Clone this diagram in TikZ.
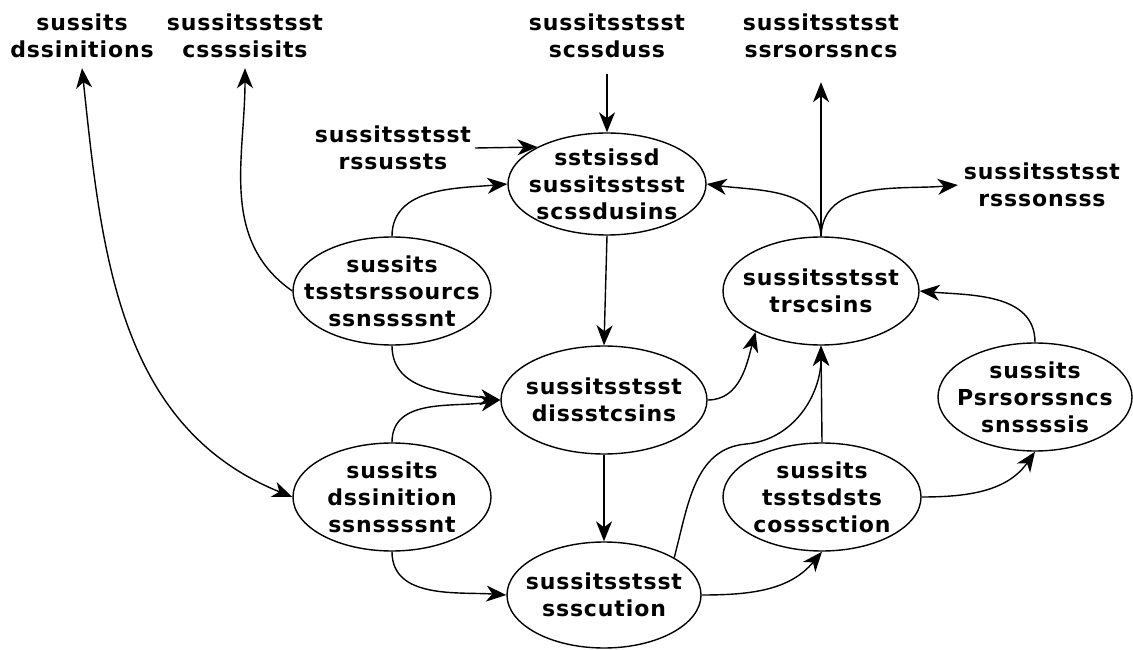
\documentclass[tikz,border=0pt]{standalone}
\usepackage{fontspec}
\setsansfont{DejaVu Sans}[LetterSpace=4]
\usetikzlibrary{shapes.geometric,arrows.meta}
\begin{document}
\begin{tikzpicture}[x=1pt,y=1pt,
  every node/.style={font=\sffamily\bfseries\fontsize{22}{27}\selectfont, align=center},
  ell/.style={draw, ellipse, line width=1.4pt, inner sep=0pt},
  txt/.style={inner sep=10pt},
  tip/.style={Stealth[length=20pt,width=16pt,inset=6pt]},
  link/.style={line width=1.4pt, -{Stealth[length=20pt,width=16pt,inset=6pt]}},
  both/.style={line width=1.4pt, {Stealth[length=20pt,width=16pt,inset=6pt]}-{Stealth[length=20pt,width=16pt,inset=6pt]}}
]
\useasboundingbox[fill=white] (0,0) rectangle (1133,649);

% process ellipses
\node[ell, minimum width=198pt, minimum height=102pt,
  label={center:sstsissd\\sussitsstsst\\scssdusins}] (e1) at (607,465) {};
\node[ell, minimum width=198pt, minimum height=108pt,
  label={center:sussits\\tsstsrssourcs\\ssnssssnt}] (e2) at (392,358) {};
\node[ell, minimum width=206pt, minimum height=108pt,
  label={center:sussitsstsst\\dissstcsins}] (e3) at (604,249) {};
\node[ell, minimum width=198pt, minimum height=108pt,
  label={center:sussits\\dssinition\\ssnssssnt}] (e4) at (392,152) {};
\node[ell, minimum width=194pt, minimum height=106pt,
  label={center:sussitsstsst\\ssscution}] (e5) at (604,54) {};
\node[ell, minimum width=196pt, minimum height=108pt,
  label={center:sussitsstsst\\trscsins}] (e6) at (821,358) {};
\node[ell, minimum width=194pt, minimum height=108pt,
  label={center:sussits\\Psrsorssncs\\snssssis}] (e7) at (1035,252) {};
\node[ell, minimum width=198pt, minimum height=108pt,
  label={center:sussits\\tsstsdsts\\cosssction}] (e8) at (822,152) {};

% free labels
\node[txt] (t1) at (82,613) {sussits\\dssinitions};
\node[txt] (t2) at (245,613) {sussitsstsst\\cssssisits};
\node[txt] (t3) at (607,613) {sussitsstsst\\scssduss};
\node[txt] (t4) at (821,613) {sussitsstsst\\ssrsorssncs};
\node[inner sep=4pt] (t5) at (393,501) {sussitsstsst\\rssussts};
\node[inner sep=6pt] (t6) at (1042,464) {sussitsstsst\\rsssonsss};

\coordinate (w) at (746,205);

% connectors
\draw[both] (t1.south) to[out=-84, in=158] (e4.west);
\draw[link] (e2.west) to[out=145, in=-90] (t2.south);
\draw[link, shorten <=6pt] (t3.south) -- (e1.north);
\draw[link] (t5.east) -- (e1.152);
\draw[link] (e2.north) to[out=90, in=185] (e1.west);
\draw[link] (e2.south) to[out=-90, in=172] (e3.west);
\draw[link] (e4.north) to[out=90, in=190] (e3.west);
\draw[link] (e4.south) to[out=-90, in=176] (e5.west);
\draw[link] (e1.south) -- (e3.north);
\draw[link] (e3.south) -- (e5.north);
\draw[link] (e3.east) to[out=0, in=-105] (e6.212);
\draw[link] (e5.28) to[out=75, in=185] (w) to[out=5, in=-90] (e6.south);
\draw[link] (e8.north) -- (e6.south);
\draw[link] (e5.east) to[out=0, in=-130] (e8.south);
\draw[link] (e8.east) to[out=0, in=-125] (e7.south);
\draw[link] (e7.north) to[out=90, in=-5] (e6.east);
\draw[link] (e6.north) to[out=92, in=-8] (e1.east);
\draw[link] (e6.north) to[out=88, in=185] (t6.west);
\draw[link, shorten >=14pt] (e6.north) -- (t4.south);
\end{tikzpicture}
\end{document}
